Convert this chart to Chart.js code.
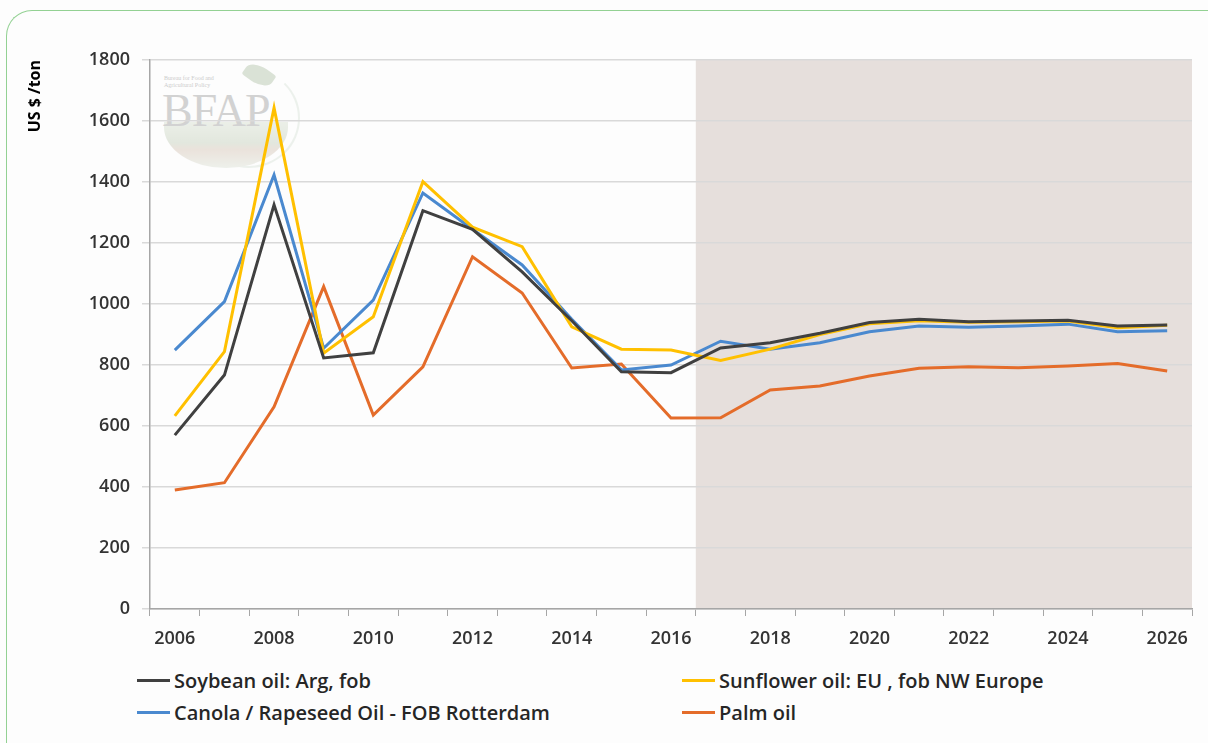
<!DOCTYPE html>
<html>
<head>
<meta charset="utf-8">
<script src="https://cdn.jsdelivr.net/npm/chart.js@4"></script>
<style>
  html, body { margin: 0; padding: 0; background: #fdfdfd; }
  #page { position: relative; width: 1208px; height: 743px; overflow: hidden; font-family: "Open Sans", sans-serif; }
  #frame { position: absolute; left: 6px; top: 10px; width: 1300px; height: 800px;
    border-left: 1.5px solid #93d193; border-top: 1.5px solid #93d193; border-top-left-radius: 26px; }
  #logo { position: absolute; left: 158px; top: 66px; width: 150px; height: 110px; opacity: 0.5; }
  #logo .bowl { position: absolute; left: 6px; top: 56px; width: 124px; height: 46px; border-radius: 0 0 70px 70px / 0 0 46px 46px;
    background: linear-gradient(#dbe3d4, #c9d3c0 45%, #d9c9bb 60%, #dfe5da); }
  #logo .ring { position: absolute; left: 40px; top: 2px; width: 98px; height: 96px; border-radius: 50%; border: 2px solid #dde6dd; border-left-color: transparent; border-top-color: transparent; }
  #logo .leaf { position: absolute; left: 86px; top: 0px; width: 30px; height: 18px; border-radius: 60% 10% 60% 10%; background: #b9c8b0; transform: rotate(35deg); }
  #logo .small { position: absolute; left: 6px; top: 9px; font: 6px "Liberation Serif", serif; color: #999; line-height: 7px; }
  #logo .big { position: absolute; left: 4px; top: 22px; font: 46px "Liberation Serif", serif; color: #a9a9a9; letter-spacing: -1px; line-height: 46px; }
  #wrap { position: absolute; left: 0; top: 0; width: 1208px; height: 650px; }
  #legend { position: absolute; left: 0; top: 667px; width: 1208px; height: 70px; font-size: 20px; font-weight: 600; color: #262626; }
  .item { position: absolute; display: flex; align-items: center; white-space: nowrap; }
  .item span.sw { display: inline-block; width: 33px; height: 3px; margin-right: 4px; }
</style>
</head>
<body>
<div id="page">
  <div id="frame"></div>
  <div id="logo">
    <div class="ring"></div>
    <div class="leaf"></div>
    <div class="bowl"></div>
    <div class="small">Bureau for Food and<br>Agricultural Policy</div>
    <div class="big">BFAP</div>
  </div>
  <div id="wrap"><canvas id="chart"></canvas></div>
  <div id="legend"></div>
</div>
<script>
const years = ['2006','2007','2008','2009','2010','2011','2012','2013','2014','2015','2016',
  '2017','2018','2019','2020','2021','2022','2023','2024','2025','2026'];
const forecastFrom = '2017';

const soybean = [570, 767, 1325, 823, 840, 1306, 1245, 1105, 945, 778, 775, 856, 873, 904, 939, 950, 942, 944, 947, 928, 931];
const sunflower = [633, 844, 1643, 839, 958, 1401, 1252, 1188, 925, 852, 849, 815, 852, 900, 935, 945, 940, 942, 944, 922, 930];
const canola = [849, 1008, 1423, 855, 1013, 1364, 1245, 1128, 950, 784, 800, 878, 852, 873, 909, 928, 924, 928, 934, 909, 912];
const palm = [390, 414, 663, 1057, 636, 794, 1155, 1036, 790, 803, 626, 627, 718, 731, 764, 789, 794, 791, 797, 805, 780];

const seriesNames = ['Soybean oil: Arg, fob', 'Sunflower oil: EU , fob NW Europe',
  'Canola / Rapeseed Oil - FOB Rotterdam', 'Palm oil'];
const seriesColors = ['#404040', '#FFC000', '#4A89CF', '#E46C2A'];

// shaded forecast band behind grid
const forecastBand = {
  id: 'forecastBand',
  beforeDraw(chart) {
    const { ctx, chartArea, scales } = chart;
    const i = years.indexOf(forecastFrom);
    const x0 = (scales.x.getPixelForValue(i - 1) + scales.x.getPixelForValue(i)) / 2;
    ctx.save();
    ctx.fillStyle = '#e6dfdc';
    ctx.fillRect(x0, chartArea.top, chartArea.right - x0, chartArea.bottom - chartArea.top);
    ctx.restore();
  }
};

const datasets = [soybean, sunflower, canola, palm].map((d, i) => ({
  label: seriesNames[i],
  data: d,
  borderColor: seriesColors[i],
  backgroundColor: seriesColors[i],
  borderWidth: 3,
  pointRadius: 0,
  tension: 0
}));

const tickFont = { family: 'Open Sans', size: 18, weight: '600' };

new Chart(document.getElementById('chart'), {
  type: 'line',
  data: { labels: years, datasets },
  options: {
    responsive: true,
    maintainAspectRatio: false,
    animation: false,
    layout: { padding: { top: 60, right: 16, left: 0, bottom: 0 } },
    plugins: { legend: { display: false }, tooltip: { enabled: false } },
    scales: {
      x: {
        type: 'category',
        offset: true,
        grid: { offset: true, drawOnChartArea: false, drawTicks: true, tickLength: 7, color: '#a6a6a6' },
        border: { color: '#a6a6a6', width: 1.5 },
        ticks: {
          autoSkip: false, maxRotation: 0, padding: 12, color: '#333',
          font: tickFont,
          callback: (v, i) => i % 2 === 0 ? years[i] : ''
        },
        afterFit: s => { s.height = 41; }
      },
      y: {
        min: 0, max: 1800,
        ticks: { stepSize: 200, padding: 12, color: '#333', font: tickFont, callback: v => String(v) },
        grid: { color: '#d9d9d9', tickLength: 8, lineWidth: 1.5 },
        border: { color: '#a6a6a6', width: 1.5 },
        title: {
          display: true, text: 'US $ /ton', align: 'end', color: '#000',
          font: { family: 'Open Sans', size: 16, weight: 'bold' }, padding: { top: 26, bottom: 0 }
        },
        afterFit: s => { s.width = 150; }
      }
    }
  },
  plugins: [forecastBand]
});

// legend in two columns like the original
const legend = document.getElementById('legend');
const cols = [137, 682];
seriesNames.forEach((name, i) => {
  const el = document.createElement('div');
  el.className = 'item';
  el.style.left = cols[i % 2] + 'px';
  el.style.top = (Math.floor(i / 2) * 32) + 'px';
  el.innerHTML = '<span class="sw" style="background:' + seriesColors[i] + '"></span>' + name;
  legend.appendChild(el);
});
</script>
</body>
</html>
